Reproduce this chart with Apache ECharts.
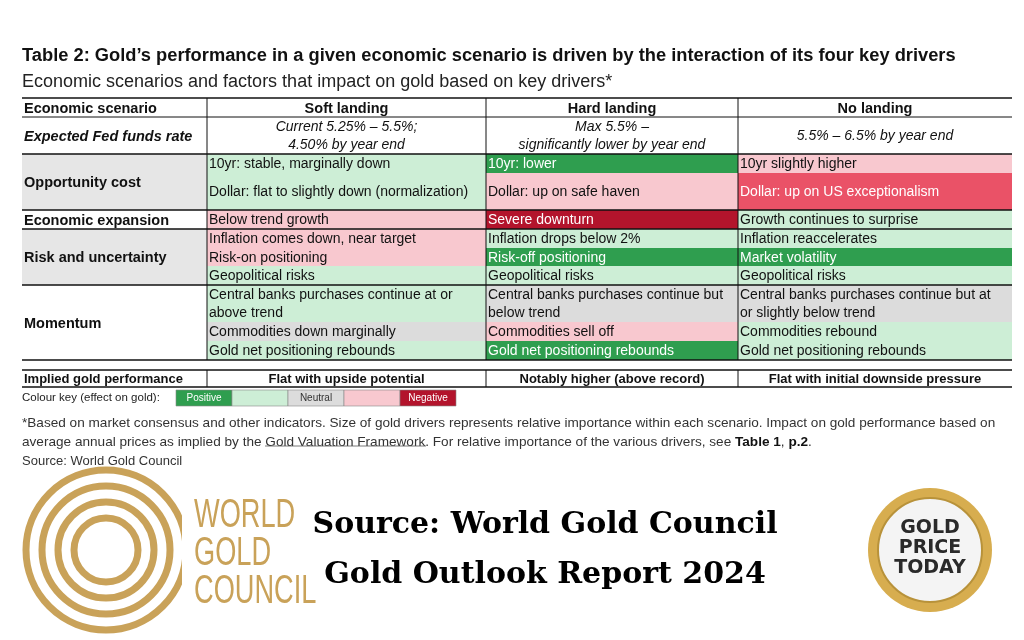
<!DOCTYPE html>
<html>
<head>
<meta charset="utf-8">
<script src="https://cdn.jsdelivr.net/npm/echarts@6/dist/echarts.min.js"></script>
<style>html,body{margin:0;background:#fff}#c{width:1024px;height:640px}</style>
</head>
<body>
<div id="c"></div>
<script>
// table content
var scenarios = ['Soft landing', 'Hard landing', 'No landing'];
var fedRates = ['Current 5.25% \u2013 5.5%;\n4.50% by year end', 'Max 5.5% \u2013\nsignificantly lower by year end', '5.5% \u2013 6.5% by year end'];
var drivers = ['Opportunity cost', 'Economic expansion', 'Risk and uncertainty', 'Momentum'];
var performance = ['Flat with upside potential', 'Notably higher (above record)', 'Flat with initial downside pressure'];
// effect codes: 'pos' positive, 'lpos' mild positive, 'neu' neutral, 'lneg' mild negative, 'mneg' negative-ish, 'neg' negative
var softCells = [
  ['10yr: stable, marginally down', 'lpos'], ['Dollar: flat to slightly down (normalization)', 'lpos'],
  ['Below trend growth', 'lneg'],
  ['Inflation comes down, near target', 'lneg'], ['Risk-on positioning', 'lneg'], ['Geopolitical risks', 'lpos'],
  ['Central banks purchases continue at or\nabove trend', 'lpos'], ['Commodities down marginally', 'neu'], ['Gold net positioning rebounds', 'lpos']
];
var hardCells = [
  ['10yr: lower', 'pos'], ['Dollar: up on safe haven', 'lneg'],
  ['Severe downturn', 'neg'],
  ['Inflation drops below 2%', 'lpos'], ['Risk-off positioning', 'pos'], ['Geopolitical risks', 'lpos'],
  ['Central banks purchases continue but\nbelow trend', 'neu'], ['Commodities sell off', 'lneg'], ['Gold net positioning rebounds', 'pos']
];
var noCells = [
  ['10yr slightly higher', 'lneg'], ['Dollar: up on US exceptionalism', 'mneg'],
  ['Growth continues to surprise', 'lpos'],
  ['Inflation reaccelerates', 'lpos'], ['Market volatility', 'pos'], ['Geopolitical risks', 'lpos'],
  ['Central banks purchases continue but at\nor slightly below trend', 'neu'], ['Commodities rebound', 'lpos'], ['Gold net positioning rebounds', 'lpos']
];
var keyLabels = ['Positive', '', 'Neutral', '', 'Negative'];
var keyEffects = ['pos', 'lpos', 'neu', 'lneg', 'neg'];

// layout
var colEdges = [22, 207, 486, 738, 1012];
var subRowEdges = [154, 173, 210, 229, 248, 266, 285, 322, 341, 360];
var driverRows = [[0, 2], [2, 3], [3, 6], [6, 9]];
var colors = {pos: '#2f9e4f', lpos: '#cdeed6', neu: '#dcdcdc', lneg: '#f8c8cf', mneg: '#ea5267', neg: '#b3142c', none: '#ffffff', grey: '#e6e6e6'};
var FONT = '"Liberation Sans", Arial, sans-serif';

var cells = [];
cells.push([0, 1, 98, 117, 'none', 'Economic scenario', 'left', 'bold']);
cells.push([0, 1, 117, 154, 'none', 'Expected Fed funds rate', 'left', 'bolditalic']);
scenarios.forEach(function (s, i) {
  cells.push([i + 1, i + 2, 98, 117, 'none', s, 'center', 'bold']);
  cells.push([i + 1, i + 2, 117, 154, 'none', fedRates[i], 'center', 'italic']);
});
drivers.forEach(function (d, i) {
  var r = driverRows[i];
  cells.push([0, 1, subRowEdges[r[0]], subRowEdges[r[1]], i % 2 === 0 ? 'grey' : 'none', d, 'left', 'bold']);
});
[softCells, hardCells, noCells].forEach(function (list, c) {
  list.forEach(function (item, k) {
    cells.push([c + 1, c + 2, subRowEdges[k], subRowEdges[k + 1], item[1], item[0], 'left', 'normal']);
  });
});
cells.push([0, 1, 370, 387, 'none', 'Implied gold performance', 'left', 'smallbold']);
performance.forEach(function (p, i) {
  cells.push([i + 1, i + 2, 370, 387, 'none', p, 'center', 'smallbold']);
});

// rules: [x0, x1, y0, y1, width]
var rules = [
  [22, 1012, 98, 98, 1.5], [22, 1012, 117, 117, 1], [22, 1012, 154, 154, 1.5],
  [22, 1012, 210, 210, 1.5], [22, 1012, 229, 229, 1.5], [22, 1012, 285, 285, 1.5], [22, 1012, 360, 360, 1.5],
  [22, 1012, 370, 370, 1.5], [22, 1012, 387, 387, 1.5]
];
[1, 2, 3].forEach(function (i) {
  rules.push([colEdges[i], colEdges[i], 98, 360, 1]);
  rules.push([colEdges[i], colEdges[i], 370, 387, 1]);
});

function renderCell(params, api) {
  var c0 = colEdges[api.value(0)], c1 = colEdges[api.value(1)];
  var p0 = api.coord([c0, api.value(2)]), p1 = api.coord([c1, api.value(3)]);
  var cell = cells[params.dataIndex];
  var eff = cell[4], style = cell[7];
  var white = eff === 'pos' || eff === 'neg' || eff === 'mneg';
  var font = style === 'bold' ? 'bold 14.5px ' + FONT :
    style === 'bolditalic' ? 'italic bold 14.5px ' + FONT :
    style === 'italic' ? 'italic 14px ' + FONT :
    style === 'smallbold' ? 'bold 13px ' + FONT : '14px ' + FONT;
  var center = cell[6] === 'center';
  return {
    type: 'group',
    children: [
      {type: 'rect', shape: {x: p0[0], y: p0[1], width: p1[0] - p0[0], height: p1[1] - p0[1]},
        style: {fill: colors[eff]}},
      {type: 'text', style: {
        x: center ? (p0[0] + p1[0]) / 2 : p0[0] + 2, y: (p0[1] + p1[1]) / 2 + 1,
        text: cell[5], font: font, fill: white ? '#fff' : '#111', lineHeight: 18,
        align: center ? 'center' : 'left', verticalAlign: 'middle'}}
    ]
  };
}

function renderRule(params, api) {
  var a = api.coord([api.value(0), api.value(2)]), b = api.coord([api.value(1), api.value(3)]);
  return {type: 'line', shape: {x1: a[0], y1: a[1], x2: b[0], y2: b[1]},
    style: {stroke: '#111', lineWidth: api.value(4)}};
}

var keyData = keyLabels.map(function (l, i) { return [176 + i * 56, 176 + (i + 1) * 56, 390, 406, i]; });
function renderKey(params, api) {
  var a = api.coord([api.value(0), api.value(2)]), b = api.coord([api.value(1), api.value(3)]);
  var i = api.value(4), e = keyEffects[i];
  return {type: 'group', children: [
    {type: 'rect', shape: {x: a[0], y: a[1], width: b[0] - a[0], height: b[1] - a[1]},
      style: {fill: colors[e], stroke: '#888', lineWidth: 0.6}},
    {type: 'text', style: {x: (a[0] + b[0]) / 2, y: (a[1] + b[1]) / 2, text: keyLabels[i],
      font: '10px ' + FONT, fill: (e === 'pos' || e === 'neg') ? '#fff' : '#333',
      align: 'center', verticalAlign: 'middle'}}
  ]};
}

var chart = echarts.init(document.getElementById('c'));
var gold = '#c9a259';
var option = {
  backgroundColor: '#fff',
  animation: false,
  grid: {left: 0, right: 0, top: 0, bottom: 0},
  xAxis: {type: 'value', min: 0, max: 1024, show: false},
  yAxis: {type: 'value', min: 0, max: 640, inverse: true, show: false},
  series: [
    {type: 'custom', renderItem: renderCell, data: cells.map(function (c) { return [c[0], c[1], c[2], c[3]]; })},
    {type: 'custom', renderItem: renderRule, data: rules, z: 3},
    {type: 'custom', renderItem: renderKey, data: keyData}
  ],
  graphic: [
    {type: 'text', x: 22, y: 47, style: {text: 'Table 2: Gold\u2019s performance in a given economic scenario is driven by the interaction of its four key drivers', font: 'bold 18.3px ' + FONT, fill: '#111'}},
    {type: 'text', x: 22, y: 73, style: {text: 'Economic scenarios and factors that impact on gold based on key drivers*', font: '18px ' + FONT, fill: '#222'}},
    {type: 'text', x: 22, y: 392, style: {text: 'Colour key (effect on gold):', font: '11.5px ' + FONT, fill: '#222'}},
    {type: 'text', x: 22, y: 414, style: {text: '*Based on market consensus and other indicators. Size of gold drivers represents relative importance within each scenario. Impact on gold performance based on\naverage annual prices as implied by the Gold Valuation Framework. For relative importance of the various drivers, see {b|Table 1}, {b|p.2}.',
      font: '13.6px ' + FONT, fill: '#333', lineHeight: 19, rich: {b: {font: 'bold 13.6px ' + FONT, fill: '#111'}}}},
    {type: 'line', shape: {x1: 265, y1: 446, x2: 426, y2: 446}, style: {stroke: '#555', lineWidth: 0.8}},
    {type: 'text', x: 22, y: 455, style: {text: 'Source: World Gold Council', font: '13px ' + FONT, fill: '#333'}},
    // World Gold Council logo
    {type: 'circle', shape: {cx: 106, cy: 550, r: 80}, style: {fill: 'none', stroke: gold, lineWidth: 7}},
    {type: 'circle', shape: {cx: 106, cy: 550, r: 64}, style: {fill: 'none', stroke: gold, lineWidth: 7}},
    {type: 'circle', shape: {cx: 106, cy: 550, r: 48}, style: {fill: 'none', stroke: gold, lineWidth: 7}},
    {type: 'circle', shape: {cx: 106, cy: 550, r: 32}, style: {fill: 'none', stroke: gold, lineWidth: 7}},
    {type: 'rect', shape: {x: 182, y: 470, width: 30, height: 160}, style: {fill: '#fff'}},
    {type: 'text', x: 194, y: 497, scaleX: 0.68, style: {text: 'WORLD\nGOLD\nCOUNCIL', font: '40px ' + FONT, fill: gold, lineHeight: 38}},
    // centre text
    {type: 'text', x: 545, y: 510, style: {text: 'Source: World Gold Council', font: 'bold 30px "DejaVu Serif", serif', fill: '#000', align: 'center'}},
    {type: 'text', x: 545, y: 560, style: {text: 'Gold Outlook Report 2024', font: 'bold 30px "DejaVu Serif", serif', fill: '#000', align: 'center'}},
    // badge
    {type: 'circle', shape: {cx: 930, cy: 550, r: 62}, style: {fill: '#d7ad4f'}},
    {type: 'circle', shape: {cx: 930, cy: 550, r: 52}, style: {fill: '#f4f4f4', stroke: '#b8923a', lineWidth: 2}},
    {type: 'text', x: 930, y: 518, style: {text: 'GOLD\nPRICE\nTODAY', font: 'bold 19px "DejaVu Sans", sans-serif', fill: '#2a2a2a', align: 'center', lineHeight: 20}}
  ]
};
chart.setOption(option);
</script>
</body>
</html>
